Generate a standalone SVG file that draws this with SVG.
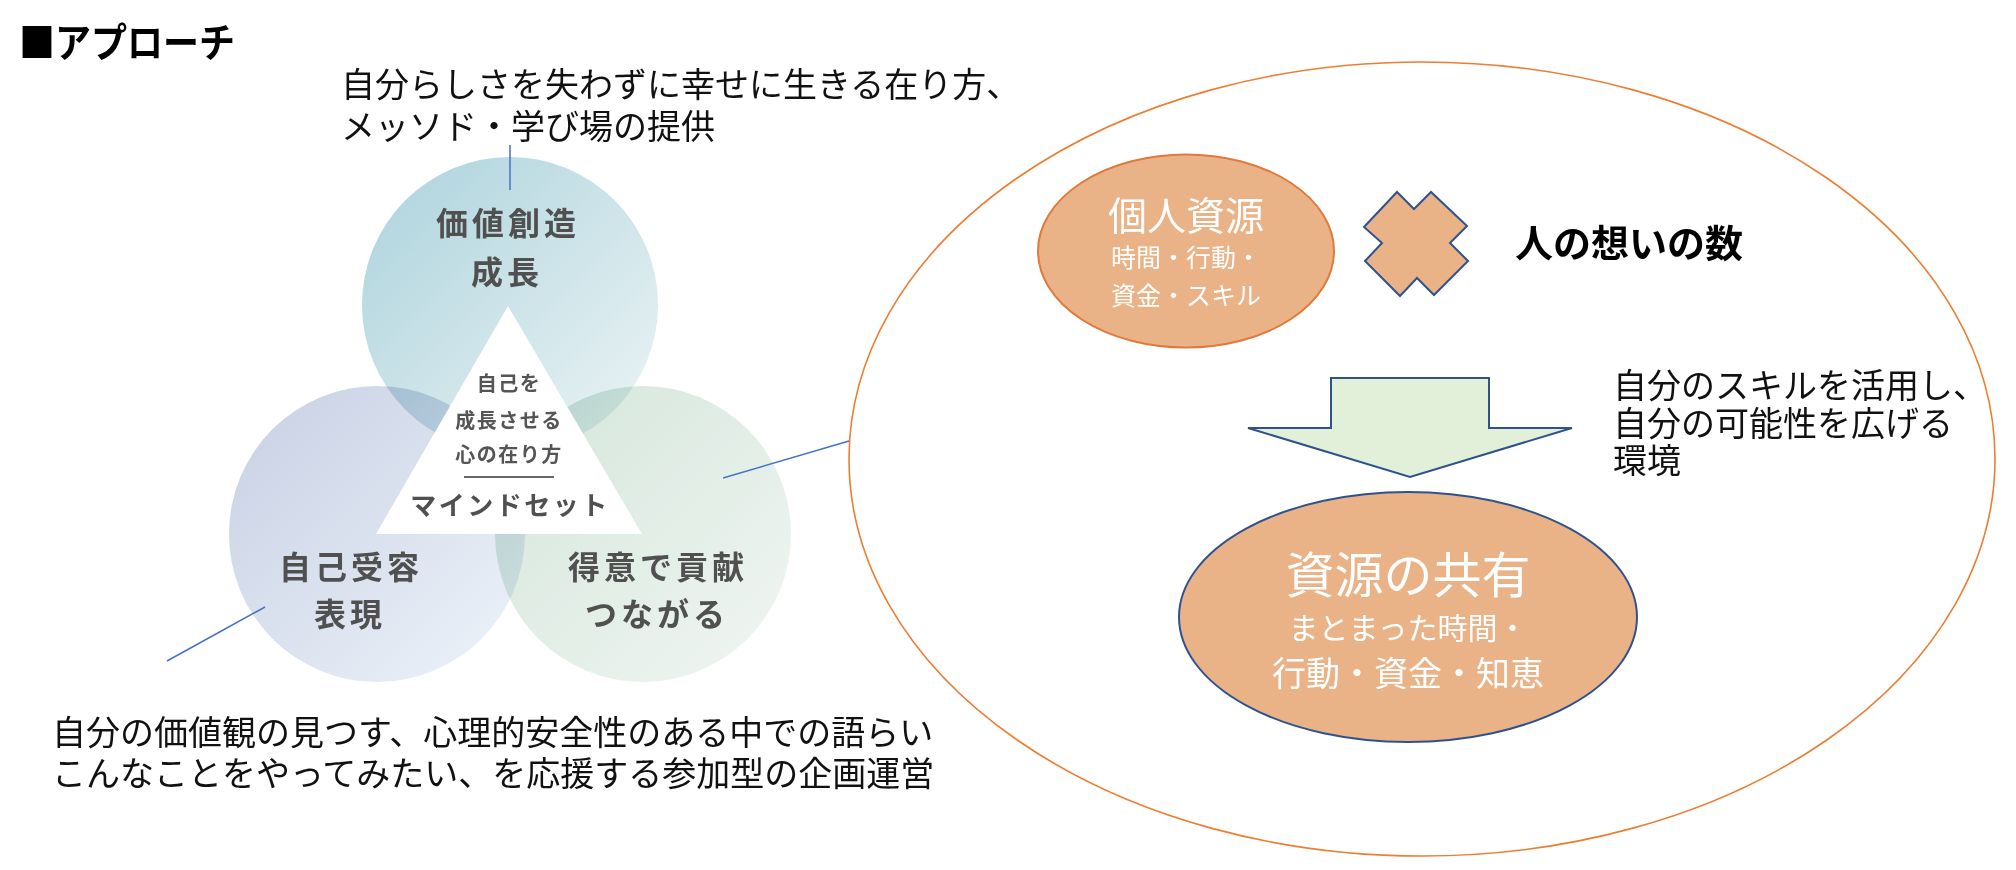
<svg xmlns="http://www.w3.org/2000/svg" width="2016" height="870" viewBox="0 0 2016 870">
<style>
text{font-family:'Noto Sans CJK JP','Noto Sans CJK SC',sans-serif;}
.blk{fill:#111;font-size:34px;}
.lbl{fill:#505050;font-size:32px;font-weight:700;letter-spacing:4px;text-anchor:middle;}
.tri{fill:#555;font-size:20px;font-weight:700;letter-spacing:1.5px;text-anchor:middle;}
.wht{fill:#fff;text-anchor:middle;}
.conn{stroke:#4472C4;stroke-width:1.5;fill:none;}
.blend{mix-blend-mode:multiply;}
</style>
<defs>
<linearGradient id="gTop" x1="0" y1="0" x2="1" y2="1">
<stop offset="0" stop-color="#abd2dc"/>
<stop offset="1" stop-color="#eef5f6"/>
</linearGradient>
<linearGradient id="gLeft" x1="0" y1="0" x2="1" y2="1">
<stop offset="0" stop-color="#c8cfe3"/>
<stop offset="1" stop-color="#edf4fa"/>
</linearGradient>
<linearGradient id="gRight" x1="0" y1="0" x2="1" y2="1">
<stop offset="0" stop-color="#d3e5db"/>
<stop offset="1" stop-color="#f1f6f2"/>
</linearGradient>
</defs>
<rect width="2016" height="870" fill="#fff"/>

<g id="title">
<text x="19" y="57" font-size="40" font-weight="700" fill="#000" textLength="216" lengthAdjust="spacingAndGlyphs">■アプローチ</text>
</g>

<g id="note-top">
<text class="blk" x="341" y="97">自分らしさを失わずに幸せに生きる在り方、</text>
<text class="blk" x="341" y="139">メッソド・学び場の提供</text>
</g>

<g id="venn" style="isolation:isolate">
<g id="circle-top"><circle class="blend" cx="510" cy="305" r="148" fill="url(#gTop)"/></g>
<g id="circle-left"><circle class="blend" cx="377" cy="534" r="148" fill="url(#gLeft)"/></g>
<g id="circle-right"><circle class="blend" cx="643" cy="534" r="148" fill="url(#gRight)"/></g>
</g>

<g id="label-top">
<text class="lbl" x="508" y="235">価値創造</text>
<text class="lbl" x="507" y="284">成長</text>
</g>
<g id="label-left">
<text class="lbl" x="351" y="579">自己受容</text>
<text class="lbl" x="350" y="626">表現</text>
</g>
<g id="label-right">
<text class="lbl" x="658" y="579">得意で貢献</text>
<text class="lbl" x="657" y="626">つながる</text>
</g>

<g id="mindset">
<polygon points="508,306 376,534 642,534" fill="#fff"/>
<text class="tri" x="509" y="391">自己を</text>
<text class="tri" x="509" y="428">成長させる</text>
<text class="tri" x="509" y="462">心の在り方</text>
<line x1="464" y1="477" x2="554" y2="477" stroke="#666" stroke-width="2"/>
<text x="510" y="515" fill="#505050" font-size="26" font-weight="700" letter-spacing="2.5" text-anchor="middle">マインドセット</text>
</g>

<g id="note-bottom">
<text class="blk" x="52" y="745">自分の価値観の見つす、心理的安全性のある中での語らい</text>
<text class="blk" x="52" y="786">こんなことをやってみたい、を応援する参加型の企画運営</text>
</g>

<g id="outer-ellipse">
<ellipse cx="1422" cy="459" rx="573" ry="397" fill="none" stroke="#ED7D31" stroke-width="1.6"/>
</g>

<g id="connectors">
<line class="conn" x1="510" y1="145" x2="510" y2="190"/>
<line class="conn" x1="265" y1="607" x2="167" y2="661"/>
<line class="conn" x1="723" y1="478" x2="849" y2="441"/>
</g>

<g id="personal-resource">
<ellipse cx="1186" cy="251" rx="148" ry="96.5" fill="#EAB287" stroke="#E0793A" stroke-width="2"/>
<text class="wht" x="1186" y="230" font-size="39">個人資源</text>
<text class="wht" x="1186" y="267" font-size="25">時間・行動・</text>
<text class="wht" x="1186" y="305" font-size="25">資金・スキル</text>
</g>

<g id="multiply">
<polygon points="1397,192 1414,209 1431,192 1467,226 1450,243 1468,261 1434,295 1417,278 1400,296 1365,261 1382,243 1364,227" fill="#EAB287" stroke="#2F528F" stroke-width="2" stroke-linejoin="miter"/>
</g>

<g id="people-thoughts">
<text x="1515" y="257" font-size="38" font-weight="700" fill="#000">人の想いの数</text>
</g>

<g id="arrow">
<polygon points="1331,378 1489,378 1489,428 1572,428 1410,477 1248,428 1331,428" fill="#E2F0D9" stroke="#2F528F" stroke-width="2"/>
</g>

<g id="note-right">
<text class="blk" x="1613" y="398">自分のスキルを活用し、</text>
<text class="blk" x="1613" y="436">自分の可能性を広げる</text>
<text class="blk" x="1613" y="473">環境</text>
</g>

<g id="shared-resource">
<ellipse cx="1408" cy="617" rx="229" ry="125" fill="#EAB287" stroke="#2F528F" stroke-width="2"/>
<text class="wht" x="1408" y="593" font-size="49">資源の共有</text>
<text class="wht" x="1408" y="639" font-size="30">まとまった時間・</text>
<text class="wht" x="1408" y="686" font-size="34">行動・資金・知恵</text>
</g>
</svg>
